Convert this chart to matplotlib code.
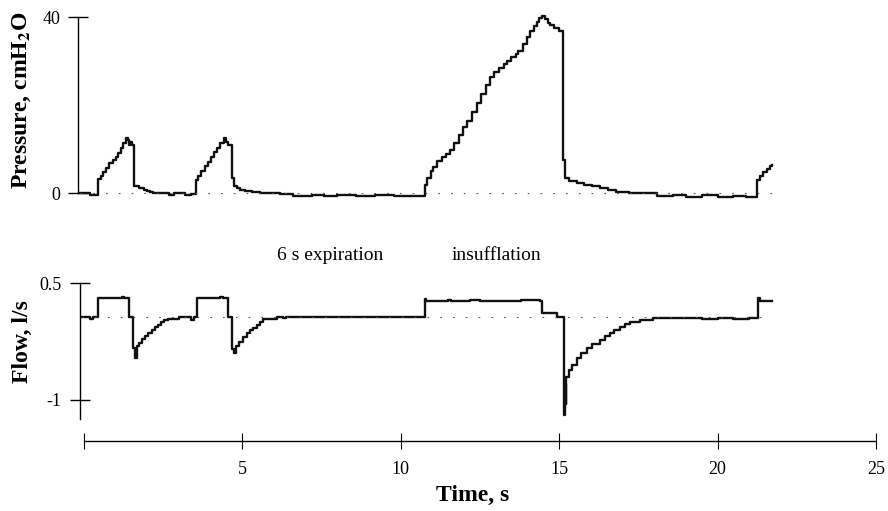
import matplotlib
matplotlib.use("Agg")
import matplotlib.pyplot as plt

plt.rcParams['font.family'] = ['Liberation Serif', 'DejaVu Serif']
plt.rcParams['mathtext.fontset'] = 'stix'

# ---------------- data ----------------
p_time = [-0.10, 0.20, 0.35, 0.45, 0.55, 0.62, 0.72, 0.82, 0.92, 1.02, 1.10, 1.18, 1.26, 1.33,
          1.40, 1.44, 1.48, 1.52, 1.60, 1.75, 1.90, 2.00, 2.10, 2.20, 2.70, 2.85, 3.20, 3.40,
          3.54, 3.62, 3.72, 3.82, 3.92, 4.02, 4.12, 4.22, 4.32, 4.42, 4.50, 4.56, 4.69, 4.75,
          4.84, 4.95, 5.10, 5.30, 5.57, 6.20, 6.60, 7.20, 7.60, 8.00, 8.60, 9.20, 9.80, 10.40,
          10.77, 10.83, 10.95, 11.03, 11.15, 11.30, 11.45, 11.56, 11.70, 11.85, 11.98, 12.10,
          12.25, 12.40, 12.55, 12.70, 12.82, 12.95, 13.10, 13.25, 13.35, 13.50, 13.65, 13.72,
          13.85, 13.98, 14.10, 14.20, 14.30, 14.38, 14.45, 14.55, 14.65, 14.72, 14.85, 15.00,
          15.14, 15.19, 15.30, 15.56, 15.80, 16.05, 16.30, 16.55, 16.80, 17.20, 17.55, 18.10,
          18.60, 19.00, 19.50, 20.00, 20.50, 20.90, 21.24, 21.35, 21.45, 21.55, 21.65, 21.72]
p_value = [0.0, -0.3, -0.3, 3.3, 4.0, 4.8, 5.8, 6.9, 7.6, 8.4, 9.3, 10.4, 11.4, 12.6,
           12.2, 11.0, 11.8, 11.0, 1.7, 1.2, 0.9, 0.6, 0.3, 0.0, -0.3, 0.0, -0.3, -0.2,
           3.1, 4.0, 5.0, 6.2, 7.2, 8.2, 9.4, 10.4, 11.5, 12.6, 11.8, 11.0, 3.5, 1.8,
           1.2, 0.8, 0.6, 0.3, 0.0, -0.2, -0.5, -0.3, -0.6, -0.4, -0.6, -0.4, -0.6, -0.5,
           1.9, 3.5, 5.0, 6.1, 7.3, 8.2, 9.0, 9.8, 11.5, 13.2, 15.2, 16.5,
           18.5, 20.5, 22.6, 24.6, 26.5, 27.6, 28.5, 29.5, 30.2, 31.0, 31.8, 32.3,
           34.0, 35.6, 37.0, 38.0, 39.0, 39.8, 40.3, 39.6, 38.8, 38.3, 37.6, 37.0,
           7.6, 3.5, 2.8, 2.3, 2.0, 1.6, 1.2, 0.8, 0.4, 0.2, 0.0, -0.6,
           -0.3, -0.7, -0.4, -0.8, -0.5, -0.9, 3.1, 4.0, 4.8, 5.5, 6.2, 6.5]

f_time = [-0.06, 0.20, 0.30, 0.47, 1.20, 1.28, 1.43, 1.55, 1.62, 1.68, 1.75, 1.85, 1.95,
          2.05, 2.15, 2.25, 2.35, 2.45, 2.55, 2.65, 3.00, 3.40, 3.48, 3.57, 4.30, 4.40,
          4.57, 4.69, 4.75, 4.82, 4.92, 5.02, 5.15, 5.25, 5.35, 5.46, 5.57, 5.67, 6.09,
          6.30, 6.40, 10.77, 10.82, 11.50, 11.60, 12.20, 12.50, 13.30, 13.80, 14.40, 14.45,
          14.93, 15.16, 15.19, 15.21, 15.23, 15.30, 15.40, 15.56, 15.70, 15.87, 16.05, 16.29,
          16.45, 16.61, 16.75, 16.92, 17.08, 17.24, 17.55, 17.98, 18.50, 19.00, 19.50, 20.00,
          20.50, 21.00, 21.28, 21.35, 21.72]
f_value = [0.063, 0.04, 0.063, 0.31, 0.33, 0.31, 0.063, -0.33, -0.46, -0.30, -0.27, -0.22, -0.18,
           -0.14, -0.10, -0.06, -0.03, 0.0, 0.03, 0.04, 0.063, 0.03, 0.063, 0.31, 0.33, 0.31,
           0.063, -0.34, -0.40, -0.30, -0.25, -0.19, -0.14, -0.10, -0.07, -0.04, 0.0, 0.04, 0.063,
           0.05, 0.063, 0.30, 0.27, 0.29, 0.27, 0.28, 0.27, 0.27, 0.28, 0.27, 0.114,
           0.07, -1.19, -0.80, -1.05, -0.70, -0.62, -0.55, -0.46, -0.40, -0.33, -0.28, -0.23,
           -0.18, -0.14, -0.10, -0.06, -0.02, 0.007, 0.03, 0.058, 0.05, 0.06, 0.045, 0.06,
           0.045, 0.055, 0.31, 0.27, 0.27]

p_ref = 0.0
f_ref = 0.063
p_ticks = [0, 40]
f_ticks = [0.5, -1]
f_ticklabels = ['0.5', '-1']
t_ticks = [0, 5, 10, 15, 20, 25]
t_ticklabels = ['', '5', '10', '15', '20', '25']

# ---------------- layout ----------------
W, H = 888, 511
fig = plt.figure(figsize=(W / 100, H / 100), dpi=100)

def rect(l, t, r, b):
    return [l / W, 1 - b / H, (r - l) / W, (b - t) / H]

x0, xs = 83.5, 31.7
L, R = 60, 885
xlim = ((L - x0) / xs, (R - x0) / xs)

lw_trace = 1.7
ink = '#111111'

# Pressure
axp = fig.add_axes(rect(L, 5, R, 205))
axp.set_xlim(*xlim)
axp.set_ylim((193.5 - 205) / 4.4, (193.5 - 5) / 4.4)
axp.step(p_time, p_value, where='post', color=ink, lw=lw_trace)
axp.plot([p_time[0], p_time[-1]], [p_ref, p_ref], color='#555555', lw=0.8,
         dashes=(1.5, 10))
for s in ['top', 'right', 'bottom']:
    axp.spines[s].set_visible(False)
axp.spines['left'].set_position(('data', -0.17))
axp.spines['left'].set_bounds(0, 40)
axp.spines['left'].set_linewidth(1.0)
axp.set_yticks(p_ticks)
axp.set_xticks([])
axp.tick_params(axis='y', direction='inout', length=14, width=1.0, pad=6, labelsize=13)

# Flow
fy0, fs = 322.2, 77.8
axf = fig.add_axes(rect(L, 265, R, 428))
axf.set_xlim(*xlim)
axf.set_ylim((fy0 - 428) / fs, (fy0 - 265) / fs)
axf.step(f_time, f_value, where='post', color=ink, lw=lw_trace)
axf.plot([f_time[0], f_time[-1]], [f_ref, f_ref], color='#555555', lw=0.8,
         dashes=(1.5, 10))
for s in ['top', 'right', 'bottom']:
    axf.spines[s].set_visible(False)
axf.spines['left'].set_position(('data', -0.12))
axf.spines['left'].set_bounds(-1.25, 0.5)
axf.spines['left'].set_linewidth(1.0)
axf.set_yticks(f_ticks)
axf.set_yticklabels(f_ticklabels)
axf.set_xticks([])
axf.tick_params(axis='y', direction='inout', length=14, width=1.0, pad=6, labelsize=13)

# Time axis
axt = fig.add_axes(rect(L, 430, R, 440.7))
axt.set_xlim(*xlim)
axt.set_yticks([])
for s in ['top', 'right', 'left']:
    axt.spines[s].set_visible(False)
axt.spines['bottom'].set_bounds(0, 25)
axt.spines['bottom'].set_linewidth(1.0)
axt.patch.set_visible(False)
axt.set_xticks(t_ticks)
axt.set_xticklabels(t_ticklabels)
axt.tick_params(axis='x', direction='inout', length=11, width=0.8, pad=9, labelsize=13)
axt.set_xlabel('Time, s', fontsize=17, fontweight='bold', labelpad=5)

# Labels
fig.text(22 / W, 1 - 100 / H, r'Pressure, cmH$_\mathbf{2}$O', rotation=90,
         ha='center', va='center', fontsize=17, fontweight='bold')
fig.text(22 / W, 1 - 342 / H, 'Flow, l/s', rotation=90,
         ha='center', va='center', fontsize=17, fontweight='bold')
fig.text(330.5 / W, 1 - 255 / H, '6 s expiration', ha='center', va='center', fontsize=14)
fig.text(496 / W, 1 - 255 / H, 'insufflation', ha='center', va='center', fontsize=14)

fig.savefig('out.png', dpi=100)
